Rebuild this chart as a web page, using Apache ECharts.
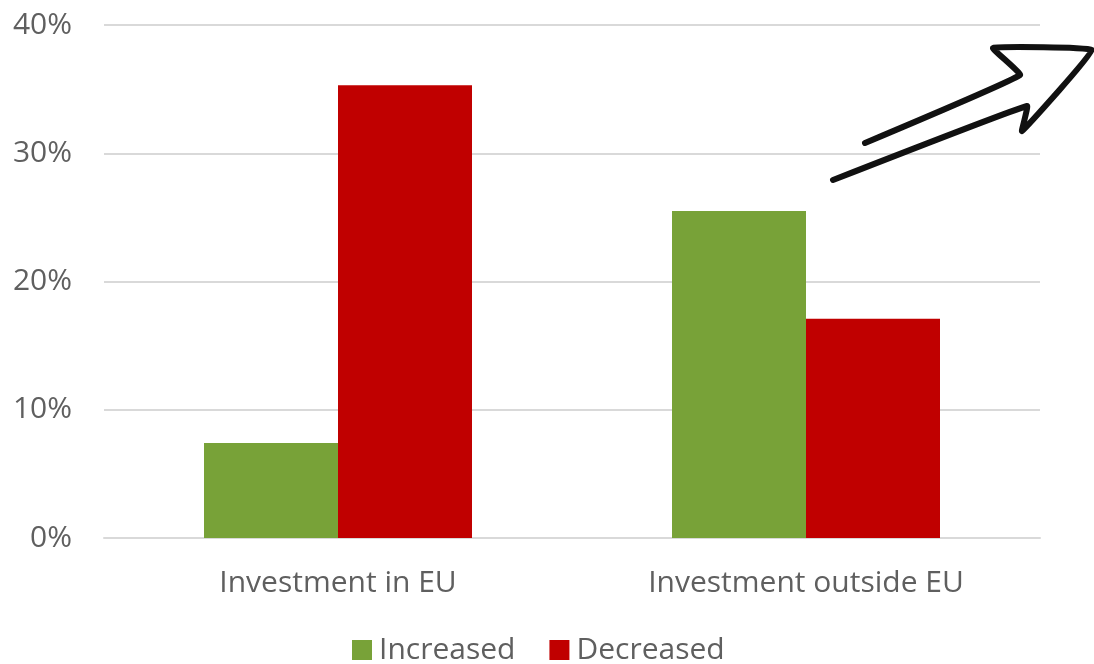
<!DOCTYPE html>
<html>
<head>
<meta charset="utf-8">
<script src="https://cdn.jsdelivr.net/npm/echarts@6/dist/echarts.min.js"></script>
<style>
  html, body { margin: 0; padding: 0; background: #fff; }
  #chart { width: 1094px; height: 664px; }
</style>
</head>
<body>
<div id="chart"></div>
<script>
// Share of respondents reporting a change in investment
const categories = ['Investment in EU', 'Investment outside EU'];
const increased = [7.4, 25.5];
const decreased = [35.3, 17.1];
const yTicks = [0, 10, 20, 30, 40];

const FONT = '"Open Sans", "Noto Sans", sans-serif';
const TEXT = '#5f5f5f';

const chart = echarts.init(document.getElementById('chart'));
chart.setOption({
  animation: false,
  textStyle: { fontFamily: FONT },
  grid: { left: 104, right: 54, top: 25, bottom: 126 },
  legend: {
    data: ['Increased', 'Decreased'],
    bottom: -6,
    left: 347,
    itemWidth: 20,
    itemHeight: 20,
    itemGap: 34,
    icon: 'rect',
    textStyle: { fontSize: 30, color: TEXT, fontFamily: FONT, padding: [0, 0, 0, 2] }
  },
  xAxis: {
    type: 'category',
    data: categories,
    axisTick: { show: false },
    axisLine: { lineStyle: { color: '#d9d9d9', width: 2 } },
    axisLabel: { fontSize: 30, color: TEXT, margin: 30, fontFamily: FONT }
  },
  yAxis: {
    type: 'value',
    min: yTicks[0],
    max: yTicks[yTicks.length - 1],
    interval: 10,
    axisLine: { show: false },
    axisTick: { show: false },
    splitLine: { lineStyle: { color: '#d9d9d9', width: 2 } },
    axisLabel: {
      fontSize: 30, color: TEXT, margin: 32, fontFamily: FONT,
      formatter: v => v + '%'
    }
  },
  series: [
    {
      name: 'Increased', type: 'bar', data: increased,
      barWidth: 134, barGap: '0%',
      itemStyle: { color: '#78a238' }
    },
    {
      name: 'Decreased', type: 'bar', data: decreased,
      barWidth: 134, barGap: '0%',
      itemStyle: { color: '#c00000' }
    }
  ],
  graphic: [
    {
      // hand-drawn upward arrow in the top-right corner
      type: 'polyline',
      shape: {
        points: [
          [833, 180], [1027, 106], [1022, 131], [1092, 50],
          [993, 48], [1020, 75], [865, 143]
        ],
        smooth: 0.08
      },
      style: { stroke: '#111', lineWidth: 6, fill: null, lineJoin: 'round', lineCap: 'round' },
      z: 10
    }
  ]
});
</script>
</body>
</html>
